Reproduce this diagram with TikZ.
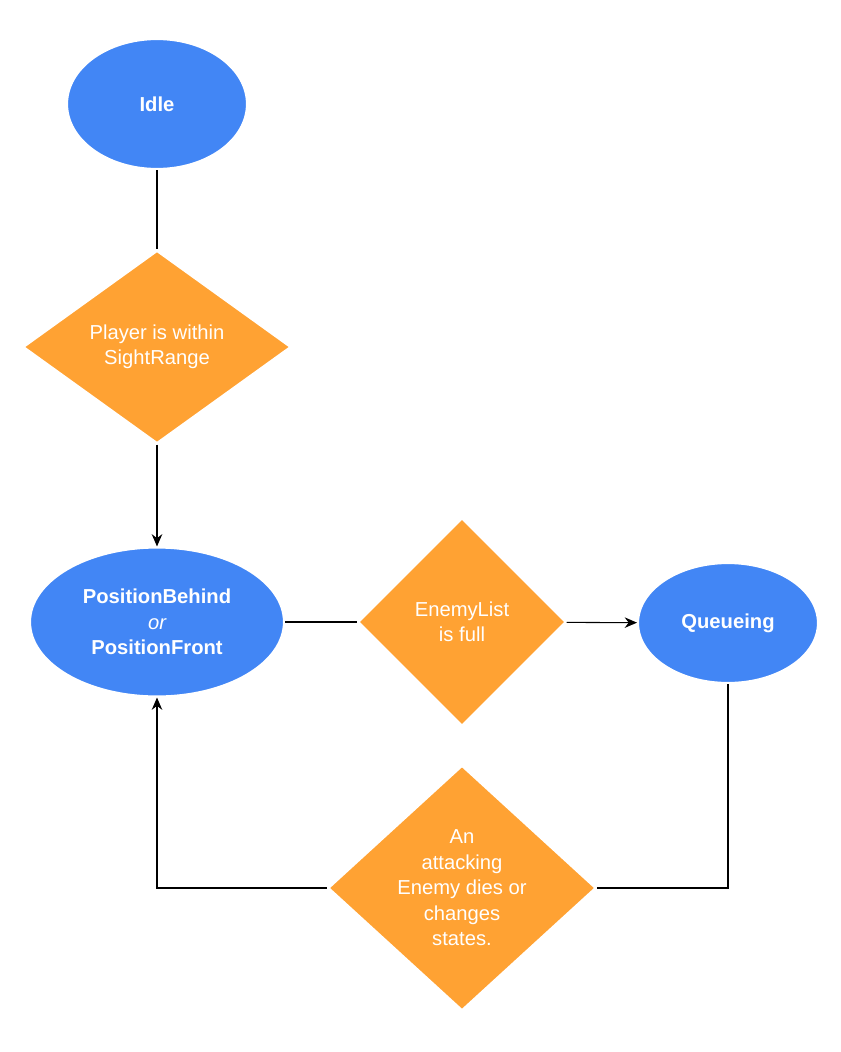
\documentclass[tikz,border=0pt]{standalone}
\usepackage{fontspec}
\setmainfont{Liberation Sans}
\usetikzlibrary{shapes.geometric,arrows.meta}
\definecolor{stateblue}{HTML}{4286F5}
\definecolor{condorange}{HTML}{FFA233}
\tikzset{
  state/.style={ellipse, fill=stateblue, draw=white, line width=1.2pt, text=white,
    font=\fontsize{11.5}{14.5}\selectfont\bfseries, align=center},
  cond/.style={diamond, fill=condorange, draw=white, line width=1.2pt, text=white,
    font=\fontsize{11.5}{14.5}\selectfont, align=center, inner sep=0pt},
  link/.style={draw=black, line width=0.6pt},
  arr/.style={link, -{Stealth[length=7pt,width=6pt]}}
}
\begin{document}
\begin{tikzpicture}[x=0.02cm,y=-0.02cm]
\useasboundingbox (0,0) rectangle (840,1052);

\node[state, minimum width=3.6cm, minimum height=2.6cm] (idle) at (157,104) {Idle};
\node[cond, minimum width=5.36cm, minimum height=3.86cm] (sight) at (157,347) {Player is within\\SightRange};
\node[state, minimum width=5.08cm, minimum height=2.98cm] (pos) at (157,622)
  {PositionBehind\\{\normalfont\itshape or}\\PositionFront};
\node[cond, minimum width=4.16cm, minimum height=4.16cm] (full) at (462,622) {EnemyList\\is full};
\node[state, minimum width=3.6cm, minimum height=2.4cm] (queue) at (728,623) {Queueing};
\node[cond, minimum width=5.36cm, minimum height=4.44cm] (dies) at (462,888)
  {An\\attacking\\Enemy dies or\\changes\\states.};

\coordinate (qcorner) at (queue.south |- dies.east);
\coordinate (pcorner) at (pos.south |- dies.west);

\draw[link] (idle) -- (sight);
\draw[arr] (sight) -- (pos);
\draw[link] (pos) -- (full);
\draw[arr] (full) -- (queue);
\draw[link] (queue.south) -- (qcorner) -- (dies.east);
\draw[arr] (dies.west) -- (pcorner) -- (pos.south);
\end{tikzpicture}
\end{document}
